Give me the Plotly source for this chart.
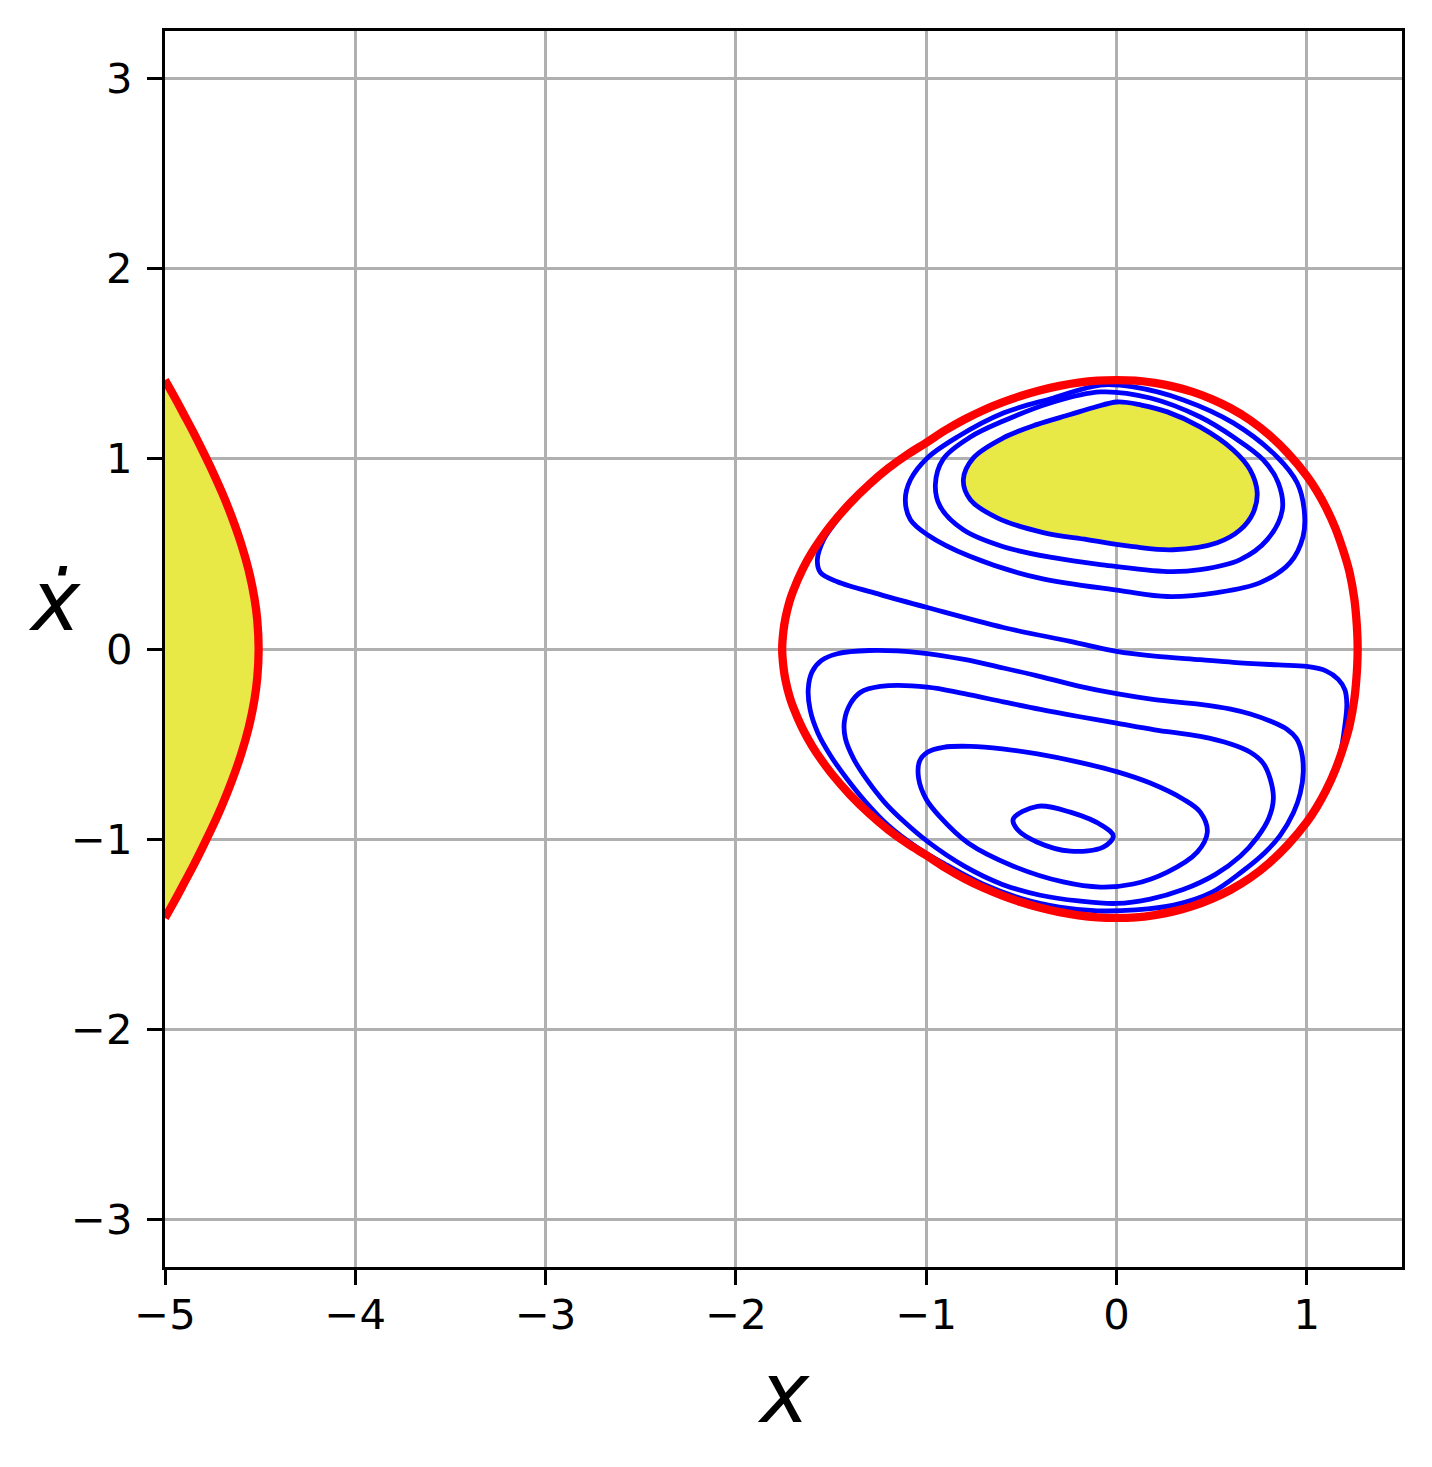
import plotly.graph_objects as go

# ---- tick labels ----
x_ticks = [-5, -4, -3, -2, -1, 0, 1]
x_tick_text = ["−5", "−4", "−3", "−2", "−1", "0", "1"]
y_ticks = [-3, -2, -1, 0, 1, 2, 3]
y_tick_text = ["−3", "−2", "−1", "0", "1", "2", "3"]

# ---- red separatrix: closed loop, clockwise from the top ----
sep_x = [0.0, 0.1, 0.2, 0.3, 0.4, 0.5, 0.6, 0.7, 0.8, 0.9, 1.0, 1.05, 1.1, 1.15, 1.2, 1.225, 1.25, 1.26, 1.265, 1.267,
         1.265, 1.26, 1.25, 1.225, 1.2, 1.15, 1.1, 1.05, 1.0, 0.9, 0.8, 0.7, 0.6, 0.5, 0.4, 0.3, 0.2, 0.1, 0.0,
         -0.1, -0.2, -0.3, -0.4, -0.5, -0.6, -0.7, -0.8, -0.9, -1.0, -1.1, -1.2, -1.3, -1.4, -1.5, -1.55,
         -1.6, -1.65, -1.7, -1.72, -1.74, -1.75, -1.757,
         -1.75, -1.74, -1.72, -1.7, -1.65, -1.6, -1.55, -1.5, -1.4, -1.3, -1.2, -1.1, -1.0, -0.9, -0.8,
         -0.7, -0.6, -0.5, -0.4, -0.3, -0.2, -0.1, 0.0]
sep_y = [1.414, 1.411, 1.399, 1.380, 1.352, 1.314, 1.266, 1.205, 1.127, 1.030, 0.910, 0.835, 0.745, 0.635, 0.490, 0.400, 0.260, 0.160, 0.080, 0.0,
         -0.080, -0.160, -0.260, -0.400, -0.490, -0.635, -0.745, -0.835, -0.910, -1.030, -1.127, -1.205, -1.266, -1.314, -1.352, -1.380, -1.399, -1.411, -1.414,
         -1.411, -1.401, -1.384, -1.361, -1.332, -1.297, -1.256, -1.207, -1.150, -1.085, -1.022, -0.950, -0.865, -0.767, -0.652, -0.585,
         -0.509, -0.419, -0.304, -0.244, -0.161, -0.097, 0.0,
         0.097, 0.161, 0.244, 0.304, 0.419, 0.509, 0.585, 0.652, 0.767, 0.865, 0.950, 1.022, 1.085, 1.150, 1.207,
         1.256, 1.297, 1.332, 1.361, 1.384, 1.401, 1.411, 1.414]

# ---- red separatrix: left branch ----
left_x = [-5.0, -4.95, -4.9, -4.85, -4.8, -4.75, -4.7, -4.65, -4.6, -4.56, -4.53, -4.515, -4.508,
          -4.515, -4.53, -4.56, -4.6, -4.65, -4.7, -4.75, -4.8, -4.85, -4.9, -4.95, -5.0]
left_y = [1.414, 1.325, 1.232, 1.138, 1.038, 0.934, 0.822, 0.697, 0.554, 0.413, 0.267, 0.151, 0.0,
          -0.151, -0.267, -0.413, -0.554, -0.697, -0.822, -0.934, -1.038, -1.138, -1.232, -1.325, -1.414]

# ---- blue orbits ----
A_x = [0.004, 0.13, 0.267, 0.439, 0.613, 0.702, 0.739, 0.718, 0.650, 0.529, 0.298, 0.088, -0.154,
       -0.385, -0.627, -0.768, -0.805, -0.752, -0.595, -0.42, -0.243, -0.12, 0.004]
A_y = [1.299, 1.283, 1.247, 1.168, 1.047, 0.942, 0.822, 0.717, 0.627, 0.559, 0.522, 0.538, 0.575,
       0.612, 0.690, 0.785, 0.890, 1.005, 1.110, 1.180, 1.233, 1.270, 1.299]

B_x = [-0.085, 0.177, 0.440, 0.614, 0.771, 0.850, 0.871, 0.792, 0.650, 0.440, 0.267, -0.085,
       -0.332, -0.595, -0.805, -0.926, -0.952, -0.910, -0.768, -0.595, -0.348, -0.085]
B_y = [1.352, 1.320, 1.220, 1.115, 0.995, 0.874, 0.732, 0.575, 0.470, 0.417, 0.407, 0.444,
       0.480, 0.538, 0.627, 0.748, 0.864, 1.000, 1.115, 1.199, 1.294, 1.352]

U_x = [-0.085, 0.088, 0.351, 0.613, 0.844, 0.949, 0.986, 0.980, 0.912, 0.755, 0.529, 0.267,
       0.020, -0.416, -0.768, -0.994, -1.083, -1.110, -1.083, -0.994, -0.837, -0.595, -0.332, -0.085]
U_y = [1.388, 1.378, 1.310, 1.189, 1.010, 0.874, 0.732, 0.591, 0.454, 0.349, 0.297, 0.276,
       0.307, 0.375, 0.486, 0.601, 0.680, 0.785, 0.890, 1.005, 1.115, 1.241, 1.320, 1.388]

C_x = [-1.40, -1.467, -1.539, -1.572, -1.556, -1.467, -1.241, -0.994, -0.595, -0.243, 0.0,
       0.2, 0.44, 0.613, 0.85, 0.999, 1.10, 1.165, 1.20, 1.21, 1.20, 1.175, 1.127]
C_y = [0.767, 0.68, 0.575, 0.47, 0.402, 0.354, 0.286, 0.218, 0.113, 0.040, -0.012,
       -0.037, -0.056, -0.070, -0.084, -0.092, -0.115, -0.16, -0.215, -0.29, -0.40, -0.55, -0.67]

D_x = [-1.30, -1.03, -0.8, -0.595, -0.4, -0.2, 0.0, 0.2, 0.44, 0.6, 0.703, 0.81, 0.897,
       0.945, 0.972, 0.981, 0.965, 0.93, 0.86, 0.78, 0.66, 0.5, 0.3, 0.1, -0.1, -0.3, -0.5, -0.7,
       -0.9, -1.05, -1.2, -1.32, -1.414, -1.50, -1.57, -1.61, -1.62, -1.60, -1.55, -1.467, -1.30]
D_y = [-0.008, -0.02, -0.055, -0.10, -0.145, -0.195, -0.235, -0.266, -0.291, -0.316, -0.342,
       -0.38, -0.423, -0.47, -0.54, -0.648, -0.76, -0.86, -0.98, -1.07, -1.17, -1.28, -1.347,
       -1.372, -1.377, -1.357, -1.312, -1.237, -1.132, -1.042, -0.927, -0.802, -0.686, -0.565,
       -0.44, -0.32, -0.21, -0.12, -0.06, -0.025, -0.008]

E_x = [-1.241, -0.994, -0.8, -0.595, -0.4, -0.2, 0.0, 0.2, 0.44, 0.6, 0.703, 0.77, 0.808, 0.824,
       0.80, 0.74, 0.65, 0.52, 0.35, 0.177, 0.0, -0.2, -0.4, -0.6, -0.8, -0.994, -1.12, -1.22,
       -1.31, -1.38, -1.425, -1.43, -1.40, -1.346, -1.241]
E_y = [-0.197, -0.200, -0.235, -0.278, -0.318, -0.355, -0.390, -0.425, -0.460, -0.500, -0.543,
       -0.60, -0.685, -0.790, -0.89, -0.99, -1.09, -1.185, -1.265, -1.315, -1.338, -1.325,
       -1.295, -1.238, -1.142, -1.012, -0.905, -0.805, -0.69, -0.58, -0.47, -0.38, -0.29,
       -0.228, -0.197]

F_x = [-0.768, -0.6, -0.416, -0.2, 0.0, 0.177, 0.351, 0.44, 0.477, 0.424, 0.267, 0.088, -0.085,
       -0.28, -0.542, -0.78, -0.93, -1.0, -1.04, -1.035, -0.994, -0.91, -0.768]
F_y = [-0.512, -0.525, -0.552, -0.595, -0.645, -0.705, -0.79, -0.858, -0.963, -1.068, -1.173,
       -1.236, -1.252, -1.225, -1.142, -1.02, -0.88, -0.79, -0.68, -0.59, -0.543, -0.517, -0.512]

G_x = [-0.416, -0.243, -0.07, -0.017, -0.07, -0.243, -0.416, -0.522, -0.543, -0.416]
G_y = [-0.827, -0.858, -0.932, -0.984, -1.042, -1.063, -1.016, -0.948, -0.895, -0.827]

YELLOW = "#e8e846"
BLUE = "#0000ff"
RED = "#ff0000"
GRID = "#b0b0b0"

fig = go.Figure()

# yellow regions
fig.add_trace(go.Scatter(x=left_x, y=left_y, mode="lines", fill="toself", fillcolor=YELLOW,
                         line=dict(width=0, shape="spline"), hoverinfo="skip"))
fig.add_trace(go.Scatter(x=A_x, y=A_y, mode="lines", fill="toself", fillcolor=YELLOW,
                         line=dict(width=0, shape="spline"), hoverinfo="skip"))

# blue orbits
for bx, by in [(A_x, A_y), (B_x, B_y), (U_x, U_y), (C_x, C_y), (D_x, D_y),
               (E_x, E_y), (F_x, F_y), (G_x, G_y)]:
    fig.add_trace(go.Scatter(x=bx, y=by, mode="lines",
                             line=dict(color=BLUE, width=4.8, shape="spline")))

# red separatrix
fig.add_trace(go.Scatter(x=sep_x, y=sep_y, mode="lines",
                         line=dict(color=RED, width=8.3, shape="spline")))
fig.add_trace(go.Scatter(x=left_x, y=left_y, mode="lines",
                         line=dict(color=RED, width=8.3, shape="spline")))

axis_common = dict(showgrid=True, gridcolor=GRID, gridwidth=3.3, zeroline=False,
                   showline=True, linecolor="black", linewidth=3.3, mirror=True,
                   ticks="outside", ticklen=15, tickwidth=3.3, tickcolor="black",
                   tickfont=dict(family="DejaVu Sans", size=41.7, color="black"))

fig.update_xaxes(range=[-5, 1.5], tickvals=x_ticks, ticktext=x_tick_text,
                 ticklabelstandoff=-6, **axis_common)
fig.update_yaxes(range=[-3.25, 3.25], tickvals=y_ticks, ticktext=y_tick_text,
                 ticklabelstandoff=6, **axis_common)

fig.update_layout(
    width=1416, height=1451,
    margin=dict(l=157, r=22, t=23, b=192, autoexpand=False),
    plot_bgcolor="white", paper_bgcolor="white",
    showlegend=False,
    font=dict(family="DejaVu Sans", color="black"),
    annotations=[
        dict(text="<i>x</i>", xref="paper", yref="paper", x=0.5, y=-0.1026,
             xanchor="center", yanchor="middle", showarrow=False,
             font=dict(family="DejaVu Sans", size=83, color="black")),
        dict(text="<i>ẋ</i>", xref="paper", yref="paper", x=-0.0896, y=0.5384,
             xanchor="center", yanchor="middle", showarrow=False,
             font=dict(family="DejaVu Sans", size=83, color="black")),
    ],
)

fig.write_html("out.html")
